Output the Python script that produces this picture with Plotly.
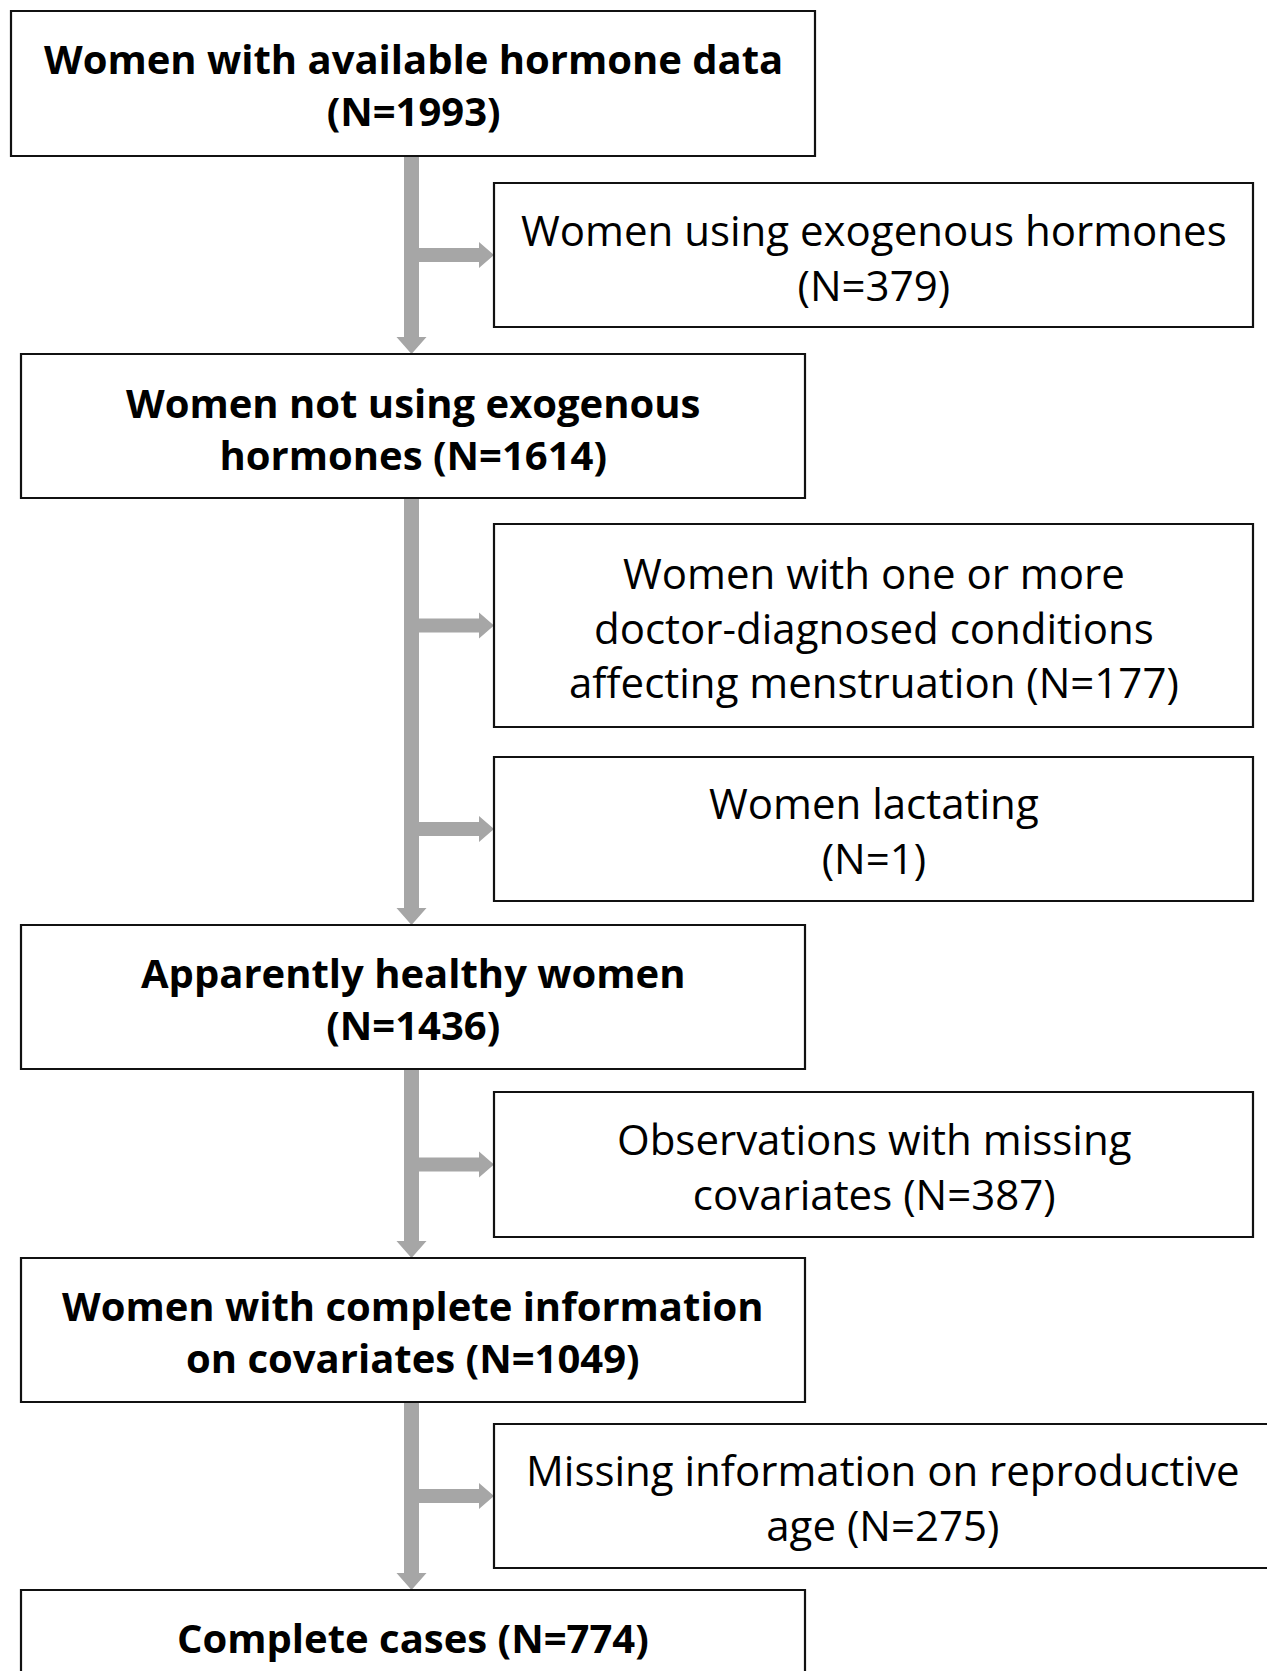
import plotly.graph_objects as go

# ---- data (flowchart content) ----
main_labels = [
    "Women with available hormone data<br>(N={})",
    "Women not using exogenous<br>hormones (N={})",
    "Apparently healthy women<br>(N={})",
    "Women with complete information<br>on covariates (N={})",
    "Complete cases (N={})",
]
main_counts = [1993, 1614, 1436, 1049, 774]

excl_labels = [
    "Women using exogenous hormones<br>(N={})",
    "Women with one or more<br>doctor-diagnosed conditions<br>affecting menstruation (N={})",
    "Women lactating<br>(N={})",
    "Observations with missing<br>covariates (N={})",
    "Missing information on reproductive<br>age (N={})",
]
excl_counts = [379, 177, 1, 387, 275]

# ---- layout geometry (page pixels) ----
OFF = 8  # default body margin of the html page
W, H = 1275, 1671
main_boxes = [
    (11, 815, 11, 156),
    (21, 805, 354, 498),
    (21, 805, 925, 1069),
    (21, 805, 1258, 1402),
    (21, 805, 1590, 1740),
]
main_text_y = [84, 428, 998, 1331, 1637]
excl_boxes = [
    (494, 1253, 183, 327),
    (494, 1253, 524, 727),
    (494, 1253, 757, 901),
    (494, 1253, 1092, 1237),
    (494, 1272, 1424, 1568),
]
excl_text_y = [257, 627, 830, 1166, 1497]

CX = 411.5
BAR_HW = 7.5
HEAD_HW = 15
HEAD_LEN = 17
HBAR_HW = 7
HHEAD_HW = 13
HHEAD_LEN = 15
GRAY = "#a6a6a6"

fig = go.Figure()
shapes = []
annotations = []

# vertical arrows between main boxes
for i in range(len(main_boxes) - 1):
    y0 = main_boxes[i][3]
    y1 = main_boxes[i + 1][2]
    yh = y1 - HEAD_LEN
    path = (f"M {CX-BAR_HW},{y0} L {CX+BAR_HW},{y0} L {CX+BAR_HW},{yh} "
            f"L {CX+HEAD_HW},{yh} L {CX},{y1} L {CX-HEAD_HW},{yh} "
            f"L {CX-BAR_HW},{yh} Z")
    shapes.append(dict(type="path", path=path, fillcolor=GRAY,
                       line=dict(width=0), layer="below"))

# horizontal branch arrows to exclusion boxes
for (x0, x1, y0, y1) in excl_boxes:
    yc = (y0 + y1) / 2
    xs = CX
    xh = x0 - HHEAD_LEN
    path = (f"M {xs},{yc-HBAR_HW} L {xh},{yc-HBAR_HW} L {xh},{yc-HHEAD_HW} "
            f"L {x0},{yc} L {xh},{yc+HHEAD_HW} L {xh},{yc+HBAR_HW} "
            f"L {xs},{yc+HBAR_HW} Z")
    shapes.append(dict(type="path", path=path, fillcolor=GRAY,
                       line=dict(width=0), layer="below"))

# boxes
for (x0, x1, y0, y1) in main_boxes + excl_boxes:
    shapes.append(dict(type="rect", x0=x0, x1=x1, y0=y0, y1=y1,
                       line=dict(color="#111111", width=2.2),
                       fillcolor="rgba(255,255,255,0)", layer="above"))

# texts
for lab, n, (x0, x1, y0, y1), ty in zip(main_labels, main_counts, main_boxes, main_text_y):
    annotations.append(dict(x=(x0 + x1) / 2, y=ty, xref="x", yref="y",
                            text=lab.format(n), showarrow=False,
                            xanchor="center", yanchor="middle", align="center",
                            font=dict(family="Open Sans", size=40, color="#000000",
                                      weight="bold")))
for lab, n, (x0, x1, y0, y1), ty in zip(excl_labels, excl_counts, excl_boxes, excl_text_y):
    annotations.append(dict(x=(x0 + x1) / 2, y=ty, xref="x", yref="y",
                            text=lab.format(n), showarrow=False,
                            xanchor="center", yanchor="middle", align="center",
                            font=dict(family="Open Sans", size=42, color="#000000")))

fig.update_layout(
    width=W - OFF, height=H - OFF,
    margin=dict(l=0, r=0, t=0, b=0),
    paper_bgcolor="white", plot_bgcolor="white",
    xaxis=dict(range=[OFF, W], visible=False, fixedrange=True),
    yaxis=dict(range=[H, OFF], visible=False, fixedrange=True),
    shapes=shapes, annotations=annotations,
    showlegend=False,
)

fig.write_html("out.html")
